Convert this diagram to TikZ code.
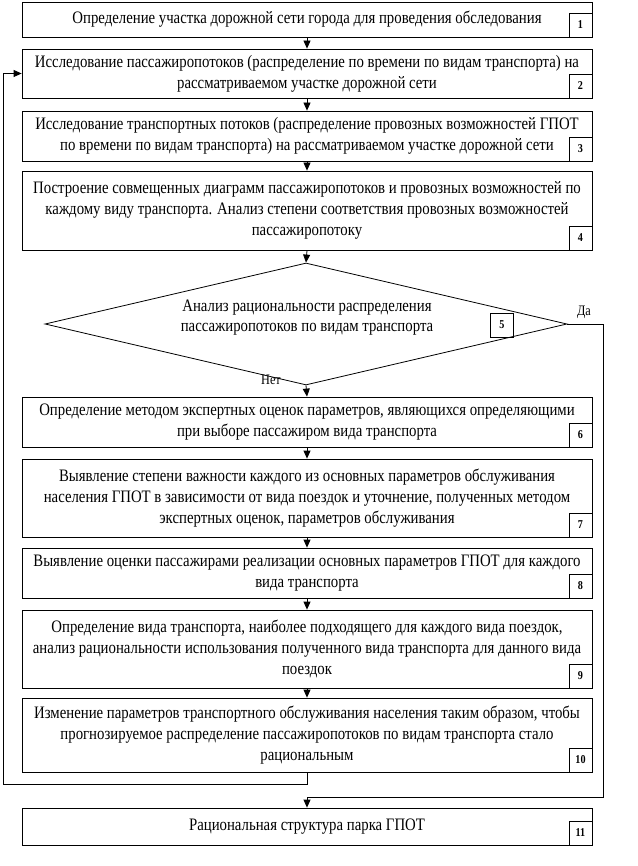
\documentclass[tikz,border=0pt]{standalone}
\usepackage{fontspec}
\setmainfont{Liberation Serif}[FakeStretch=0.845]
\usetikzlibrary{arrows.meta,shapes.geometric,calc}
\begin{document}
\begin{tikzpicture}[x=1pt,y=-1pt,
  stepbox/.style={draw, line width=0.8pt, minimum width=570pt, inner sep=0pt, align=center,
    font=\fontsize{17.5}{21}\selectfont},
  numbox/.style={draw, line width=0.8pt, minimum width=23pt, minimum height=24pt, inner sep=2pt,
    font=\fontsize{12}{12}\selectfont\bfseries, anchor=south east},
  arr/.style={-{Triangle[length=8pt,width=7pt]}, line width=0.8pt},
  lbl/.style={font=\fontsize{14.5}{14.5}\selectfont, inner sep=0pt}]
\useasboundingbox (0,0) rectangle (637,866);

\node[stepbox, minimum height=35pt] (b1) at (307,19.5) {Определение участка дорожной сети города для проведения обследования};
\node[numbox] (n1) at (b1.south east) {1};

\node[stepbox, minimum height=49pt] (b2) at (307,73.5) {Исследование пассажиропотоков (распределение по времени по видам транспорта) на\\рассматриваемом участке дорожной сети};
\node[numbox] (n2) at (b2.south east) {2};

\node[stepbox, minimum height=50pt] (b3) at (307,136) {Исследование транспортных потоков (распределение провозных возможностей ГПОТ\\по времени по видам транспорта) на рассматриваемом участке дорожной сети};
\node[numbox] (n3) at (b3.south east) {3};

\node[stepbox, minimum height=79pt] (b4) at (307,210.5) {Построение совмещенных диаграмм пассажиропотоков и провозных возможностей по\\каждому виду транспорта. Анализ степени соответствия провозных возможностей\\пассажиропотоку};
\node[numbox] (n4) at (b4.south east) {4};

\node[diamond, draw, line width=0.8pt, minimum width=522pt, minimum height=122pt, inner sep=0pt] (d5) at (306,324) {};
\node[align=center, font=\fontsize{17.5}{20}\selectfont] (t5) at (307,318) {Анализ рациональности распределения\\пассажиропотоков по видам транспорта};
\node[numbox, anchor=center] (n5) at (502,325) {5};

\node[stepbox, minimum height=50pt] (b6) at (307,422) {Определение методом экспертных оценок параметров, являющихся определяющими\\при выборе пассажиром вида транспорта};
\node[numbox] (n6) at (b6.south east) {6};

\node[stepbox, minimum height=78pt] (b7) at (307,498) {Выявление степени важности каждого из основных параметров обслуживания\\населения ГПОТ в зависимости от вида поездок и уточнение, полученных методом\\экспертных оценок, параметров обслуживания};
\node[numbox] (n7) at (b7.south east) {7};

\node[stepbox, minimum height=50pt] (b8) at (307,573) {Выявление оценки пассажирами реализации основных параметров ГПОТ для каждого\\вида транспорта};
\node[numbox] (n8) at (b8.south east) {8};

\node[stepbox, minimum height=78pt] (b9) at (307,649) {Определение вида транспорта, наиболее подходящего для каждого вида поездок,\\анализ рациональности использования полученного вида транспорта для данного вида\\поездок};
\node[numbox] (n9) at (b9.south east) {9};

\node[stepbox, minimum height=74pt] (b10) at (307,735) {Изменение параметров транспортного обслуживания населения таким образом, чтобы\\прогнозируемое распределение пассажиропотоков по видам транспорта стало\\рациональным};
\node[numbox, inner xsep=6pt] (n10) at (b10.south east) {10};

\node[stepbox, minimum height=37pt] (b11) at (307,826.5) {Рациональная структура парка ГПОТ};
\node[numbox, inner xsep=5pt] (n11) at (b11.south east) {11};

\draw[arr] (b1) -- (b2);
\draw[arr] (b2) -- (b3);
\draw[arr] (b3) -- (b4);
\draw[arr] (b4.south) -- (d5.north);
\draw[arr] (d5.south) -- (b6.north);
\draw[arr] (b6) -- (b7);
\draw[arr] (b7) -- (b8);
\draw[arr] (b8) -- (b9);
\draw[arr] (b9) -- (b10);

\coordinate (fb) at (3,784);
\draw[arr] (b10.south) |- (fb) |- (b2.west);
\coordinate (yr) at (603,797);
\draw[arr] (d5.east) -| (yr) -| (b11.north);

\node[lbl] (no) at (271,380) {Нет};
\node[lbl] (yes) at (584,312) {Да};
\end{tikzpicture}
\end{document}
